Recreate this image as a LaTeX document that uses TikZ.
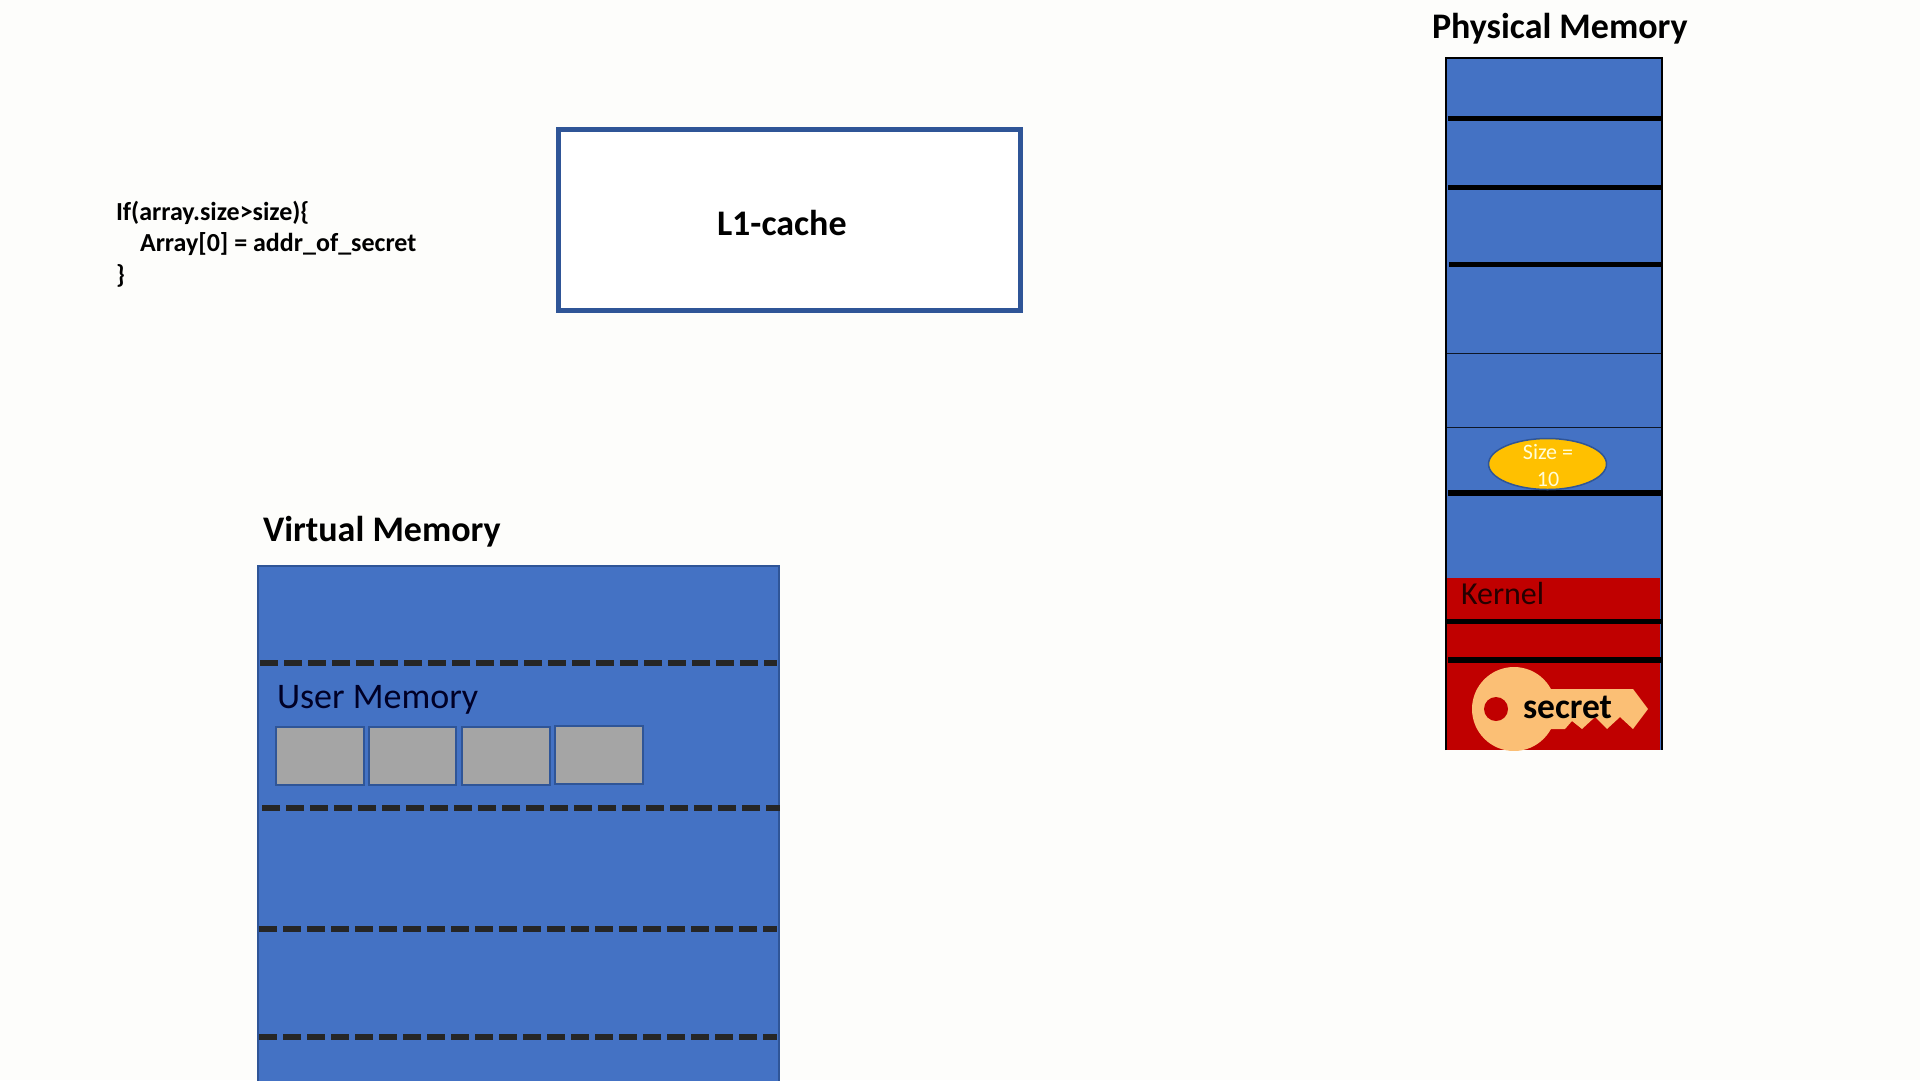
\documentclass[tikz,border=0pt]{standalone}
\usepackage{fontspec}
\setmainfont{Carlito}
\definecolor{bgc}{HTML}{FDFDFB}
\definecolor{memblue}{HTML}{4472C4}
\definecolor{edgeblue}{HTML}{2F5597}
\definecolor{kred}{HTML}{C00000}
\definecolor{keyc}{HTML}{FBBF75}
\definecolor{greybox}{HTML}{A5A5A5}
\definecolor{ambr}{HTML}{FFC000}
\definecolor{dashc}{HTML}{262626}
\tikzset{
  x=1pt,y=-1pt,
  txt/.style={anchor=base west,inner sep=0pt,outer sep=0pt},
  title/.style={txt,font=\fontsize{36}{36}\selectfont\bfseries},
  codetxt/.style={txt,font=\fontsize{26}{26}\selectfont\bfseries},
  thickrule/.style={black,line width=5.5pt},
  thinrule/.style={black!80!memblue,line width=1pt},
  dashrule/.style={dashc,line width=6pt,dash pattern=on 18pt off 6pt},
  cell/.style={fill=greybox,draw=edgeblue,line width=1.5pt}
}
\begin{document}
\begin{tikzpicture}
\useasboundingbox (0,0) rectangle (1920,1080);
\fill[bgc] (0,0) rectangle (1920,1080);
% code
\node[codetxt] (codeA) at (116,220) {If(array.size>size)\{};
\node[codetxt] (codeB) at (140,251.5) {Array[0] = addr\_of\_secret};
\node[codetxt] (codeC) at (116,283) {\}};
% L1 cache
\draw[edgeblue,line width=5pt,fill=white] (558,129) rectangle (1020,310);
\node[title] (l1) at (717,235) {L1-cache};
% virtual memory
\node[title] (vm) at (263,541) {Virtual Memory};
\fill[memblue] (258,566) rectangle (779,1082);
\draw[edgeblue,line width=1.5pt] (258,1082) -- (258,566) -- (779,566) -- (779,1082);
\draw[dashrule] (260,663) -- (777,663);
\draw[dashrule] (262,808) -- (780,808);
\draw[dashrule] (259,929) -- (777,929);
\draw[dashrule] (259,1037) -- (777,1037);
\node[txt,font=\fontsize{36}{36}\selectfont,text=black!85!blue] (um) at (277,708) {User Memory};
\draw[cell] (276,727) rectangle (364,785);
\draw[cell] (369,727) rectangle (456,785);
\draw[cell] (462,727) rectangle (550,785);
\draw[cell] (555,726) rectangle (643,784);
% physical memory
\node[title] (pm) at (1432,38) {Physical Memory};
\fill[memblue] (1446,58) rectangle (1662,750);
\fill[kred] (1447,578) rectangle (1660,750);
\draw[black,line width=2pt] (1446,750) -- (1446,58) -- (1662,58) -- (1662,750);
\draw[thickrule] (1448,118.5) -- (1661,118.5);
\draw[thickrule] (1448,187.5) -- (1661,187.5);
\draw[thickrule] (1449,264.5) -- (1661,264.5);
\draw[thinrule] (1447,353) -- (1661,353);
\draw[thinrule] (1447,427) -- (1661,427);
\draw[thickrule] (1448,493) -- (1661,493);
\draw[thickrule] (1447,621.5) -- (1661,621.5);
\draw[thickrule] (1448,660) -- (1661,660);
% size ellipse
\draw[fill=ambr,draw=edgeblue,line width=1.5pt] (1547.5,464) ellipse [x radius=59,y radius=25.5];
\node[txt,anchor=base,font=\fontsize{22}{22}\selectfont,text=white!85!yellow] (sa) at (1548,459) {Size =};
\node[txt,anchor=base,font=\fontsize{22}{22}\selectfont,text=white!85!yellow] (sb) at (1548,486) {10};
% kernel
\node[txt,font=\fontsize{32}{32}\selectfont,text=black!85!red] (kn) at (1461,604) {Kernel};
% key
\begin{scope}
\clip (1447,660) rectangle (1660,750);
\fill[keyc] (1514,709) circle [radius=42];
\fill[keyc] (1530,689) -- (1633,689) -- (1648,709) -- (1633,729) -- (1620,717) -- (1607,729) -- (1595,717) -- (1582,729) -- (1572,721) -- (1565,729) -- (1530,729) -- cycle;
\fill[kred] (1496,709) circle [radius=12];
\end{scope}
\node[txt,font=\fontsize{35.5}{36}\selectfont\bfseries] (sec) at (1523,718) {secret};
\end{tikzpicture}
\end{document}
